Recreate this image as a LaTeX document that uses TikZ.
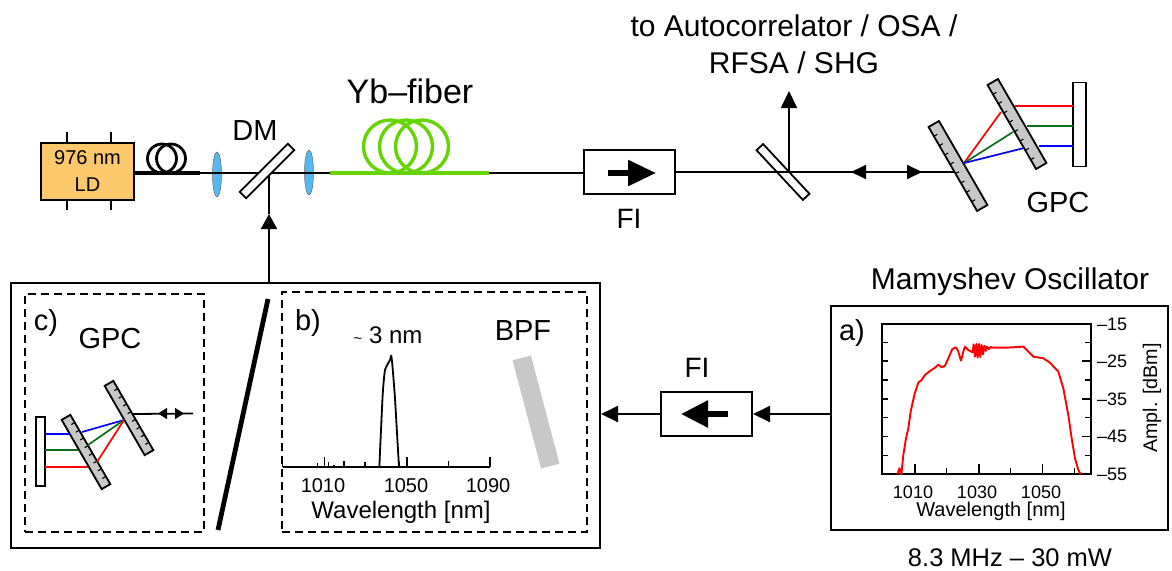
\documentclass[tikz,border=0pt]{standalone}
\usepackage{fontspec}
\setmainfont{Liberation Sans}
\usetikzlibrary{arrows.meta,shapes.geometric}

\newcommand{\fsz}[1]{\fontsize{#1}{#1}\selectfont}

\tikzset{
  beam/.style={line width=1.8pt},
  lens/.style={ellipse,draw=black!60,line width=0.5pt,fill=lensblue,inner sep=0pt,minimum width=9pt,minimum height=45pt},
  plate/.style={rectangle,draw,line width=1.8pt,fill=white,inner sep=0pt,minimum width=68pt,minimum height=9pt},
  isobox/.style={rectangle,draw,line width=2pt,fill=white,inner sep=0pt},
  panel/.style={rectangle,draw,line width=2pt,inner sep=0pt},
  dashbox/.style={rectangle,draw,line width=1.7pt,dash pattern=on 8pt off 5pt,inner sep=0pt},
  mirrorbox/.style={rectangle,draw,line width=1.8pt,fill=white,inner sep=0pt},
  lab/.style={inner sep=0pt,font=\fsz{29}},
  ticklab/.style={inner sep=0pt,font=\fsz{18}},
}
\definecolor{lensblue}{HTML}{55B9F0}
\definecolor{ldorange}{HTML}{FBC96C}
\definecolor{ybgreen}{HTML}{66D400}
\definecolor{gratgray}{HTML}{C8C8C8}
\definecolor{raygreen}{HTML}{0B6E1A}

\begin{document}
\begin{tikzpicture}[x=1pt,y=-1pt]
    \useasboundingbox (0,0) rectangle (1172,570);

    % Laser diode with its pins
    \node[rectangle,draw,line width=2pt,fill=ldorange,inner sep=0pt,minimum width=93pt,minimum height=57pt,
          align=center,font=\fontsize{20}{27}\selectfont] (ld) at (87.5,171.5) {976 nm\\LD};
    \foreach \x in {67,111} {
        \draw[line width=1.5pt] (\x,132) -- (\x,143);
        \draw[line width=1.5pt] (\x,200) -- (\x,210);
    }

    % Fiber coils
    \foreach \x in {162,171} \draw[line width=2.8pt] (\x,158.5) circle (14.5);
    \foreach \x in {390,406,422} \draw[ybgreen,line width=3.4pt] (\x,146.5) circle (26.5);

    % Lenses
    \node[lens] (lensa) at (217,174.5) {};
    \node[lens] (lensb) at (309,172.5) {};

    % Main beam line
    \coordinate (dmc) at (267,171);
    \coordinate (coilend) at (200,173);
    \coordinate (ybstart) at (330,173);
    \coordinate (ybend) at (489,173);
    \coordinate (bsc) at (783,172);
    \coordinate (gpcin) at (955,172);
    \coordinate (tapc) at (789,172);
    \coordinate (taptop) at (789,91);
    \coordinate (pumpend) at (269,175);
    \coordinate (pumphead) at (269,214);
    \coordinate (pumpbase) at (269,229);
    \node[isobox,minimum width=91pt,minimum height=44pt] (fia) at (629.5,172) {};
    \draw[line width=3.4pt] (ld.east |- coilend) -- (coilend);
    \draw[beam] (coilend) -- (ybstart);
    \draw[ybgreen,line width=3.4pt] (ybstart) -- (ybend);
    \draw[beam] (ybend) -- (fia.west |- ybend);
    \draw[beam] (fia.east) -- (gpcin);

    % Dichroic mirror and tap plate
    \node[plate,rotate=45] (dm) at (dmc) {};
    \node[plate,rotate=-47,fill=none] (bs) at (bsc) {};

    % Isolator arrow
    \draw[line width=5.5pt,-{Triangle[length=28pt,width=25pt]}] (608,173) -- (656,173);

    % Output arrow and double arrow
    \draw[beam,-{Triangle[length=17pt,width=16pt]}] (tapc) -- (taptop);
    \coordinate (dbla) at (851,172);
    \coordinate (dblb) at (922,172);
    \draw[beam,{Triangle[length=15pt,width=14pt]}-{Triangle[length=15pt,width=14pt]}] (dbla) -- (dblb);

    % Gratings
    \foreach \gx/\gy/\glen/\gwid/\gside in {958/166/97/12/1,1017/124/97/12/1,86/452/80/10/-1,129/418/80/10/-1} {
        \begin{scope}[shift={(\gx,\gy)},rotate=-60]
            \draw[fill=gratgray,line width=1.8pt] ({-\glen/2},{-\gwid/2}) rectangle ({\glen/2},{\gwid/2});
            \foreach \k in {1,...,8}
                \draw[line width=1.1pt] ({-\glen/2+\k*\glen/9},{\gside*\gwid/2}) -- ({-\glen/2+\k*\glen/9},{\gside*(\gwid/2-4)});
        \end{scope}
    }

    % End mirrors
    \node[mirrorbox,minimum width=13pt,minimum height=84pt] (mirra) at (1079.5,124.5) {};
    \node[mirrorbox,minimum width=9pt,minimum height=69pt] (mirrb) at (40.5,451.5) {};

    % Rays in the compressors
    \foreach \col/\ax/\ay/\bx/\by/\ey in {red/1001/112/1015/106/106,raygreen/1013/132/1027/126/126,blue/1024/148/1039/146/146}
        \draw[\col,line width=1.7pt] (964,163) -- (\ax,\ay) (\bx,\by) -- (1073,\ey);
    \foreach \col/\ax/\ay/\bx/\by/\ey in {blue/82/432/69/434/434,raygreen/88/445/78/450/450,red/97/462/88/467/467}
        \draw[\col,line width=1.7pt] (124,420) -- (\ax,\ay) (\bx,\by) -- (45,\ey);

    % Lower left box
    \node[panel,minimum width=589pt,minimum height=265pt] (ampbox) at (305.5,415.5) {};
    \node[dashbox,minimum width=179pt,minimum height=238pt] (boxc) at (114.5,413) {};
    \node[dashbox,minimum width=305pt,minimum height=240pt] (boxb) at (434.5,412) {};
    \draw[line width=4.8pt] (268,299) -- (218,530);
    \node[rectangle,fill=gratgray,inner sep=0pt,minimum width=112pt,minimum height=19pt,rotate=-75.2] (bpf) at (536,412) {};

    % Pump arrow up to the mirror
    \draw[beam] (ampbox.north -| pumpend) -- (pumpbase);
    \draw[beam,-{Triangle[length=15pt,width=16pt]}] (pumpbase) -- (pumphead);
    \draw[beam] (pumphead) -- (pumpend);

    % Output double arrow of the small compressor
    \coordinate (cgpca) at (133,414);
    \coordinate (cgpcb) at (193,413.5);
    \coordinate (cdbla) at (158,413.5);
    \coordinate (cdblb) at (184,413.5);
    \draw[beam] (cgpca) -- (cgpcb);
    \draw[line width=1pt,{Triangle[length=9pt,width=11pt]}-{Triangle[length=9pt,width=11pt]}] (cdbla) -- (cdblb);

    % Small spectrum in b)
    \begin{scope}[shift={(275,285)},scale=0.3333]
        \draw[line width=1.8pt] (23,547) -- (645,547);
        \foreach \x/\h in {23/30,127/12,148/30,160/15,177/8,207/18,270/16,372/15,396/30,520/18,645/30}
            \draw[line width=1.3pt] (\x,547) -- (\x,547-\h);
        \draw[line width=1.8pt,line join=round] plot[smooth,tension=0.3] coordinates {(313,547) (323,330) (330,255) (345,225) (349,212) (353,250) (360,340) (372,547)};
    \end{scope}

    % Mamyshev spectrum box a)
    \node[panel,minimum width=337pt,minimum height=224pt] (oscbox) at (999.5,418) {};
    \node[rectangle,draw,line width=1.9pt,inner sep=0pt,minimum width=209pt,minimum height=150pt] (plota) at (986.5,399) {};
    \begin{scope}[shift={(820,295)},scale=0.3333]
        \foreach \y in {143,255,368,482} {
            \draw[line width=1.4pt] (187,\y) -- (205,\y);
            \draw[line width=1.4pt] (795,\y) -- (812,\y);
        }
        \foreach \y in {198,312,425} {
            \draw[line width=1.4pt] (187,\y) -- (205,\y);
            \draw[line width=1.4pt] (785,\y) -- (812,\y);
        }
        \foreach \x/\h in {285/30,380/18,477/30,572/18,668/30,763/18}
            \draw[line width=1.4pt] (\x,538) -- (\x,538-\h);
        \draw[red,line width=1.9pt,line join=round] plot coordinates {(232,538) (238,520) (244,538) (250,480) (258,430) (265,400) (272,350) (283,300) (295,263) (305,255) (315,240) (330,228) (345,218) (355,209) (365,217) (375,212) (385,190) (397,162) (408,157) (415,170) (423,197) (430,170) (435,155) (445,165) (458,172) (461,148) (465,185) (469,147) (473,188) (477,147) (481,186) (485,150) (489,178) (493,152) (497,168) (501,155) (506,162) (512,156) (520,158) (560,158) (610,155) (625,170) (640,185) (670,190) (690,203) (715,230) (730,280) (745,360) (755,430) (765,490) (775,525) (782,538)};
    \end{scope}

    % Isolator between the boxes
    \node[isobox,minimum width=91pt,minimum height=44pt] (fib) at (706.5,414) {};
    \draw[beam,-{Triangle[length=17pt,width=16pt]}] (oscbox.west |- fib) -- (fib.east);
    \draw[beam,-{Triangle[length=17pt,width=16pt]}] (fib.west) -- (ampbox.east |- fib);
    \draw[line width=5.5pt,-{Triangle[length=27pt,width=26pt]}] (728,414) -- (681,414);

    % Labels
    \node[inner sep=0pt,align=center,font=\fontsize{30}{37}\selectfont] (tolab) at (794,44) {to Autocorrelator / OSA /\\RFSA / SHG};
    \node[inner sep=0pt,font=\fsz{34}] (yblab) at (410,91) {Yb–fiber};
    \node[lab] (dmlab) at (255,131) {DM};
    \node[lab,font=\fsz{28}] (fialab) at (629,219) {FI};
    \node[lab] (gpclab) at (1058,203) {GPC};
    \node[lab,font=\fsz{28}] (fiblab) at (697,368) {FI};
    \node[inner sep=0pt,font=\fsz{30}] (osclab) at (1010,282) {Mamyshev Oscillator};
    \node[inner sep=0pt,font=\fsz{25.5}] (replab) at (1010,558) {8.3 MHz – 30 mW};
    \node[lab] (clab) at (46,323) {c)};
    \node[lab] (gpcclab) at (110,339) {GPC};
    \node[lab] (blab) at (308,323) {b)};
    \node[inner sep=0pt,font=\fsz{24}] (widlab) at (388,335) {{\fsz{15}\textasciitilde} 3 nm};
    \node[lab] (bpflab) at (523,331) {BPF};
    \node[lab] (alab) at (852,333) {a)};

    % Tick labels of b)
    \foreach \x/\t in {323/1010,406/1050,488/1090}
        \node[inner sep=0pt,font=\fsz{20}] (bt\t) at (\x,486) {\t};
    \node[inner sep=0pt,font=\fsz{24}] (bxlab) at (401,512) {Wavelength [nm]};

    % Tick labels of a)
    \foreach \x/\t in {913/1010,977/1030,1041/1050}
        \node[ticklab] (at\t) at (\x,492) {\t};
    \node[inner sep=0pt,font=\fsz{20}] (axlab) at (991,511) {Wavelength [nm]};
    \foreach \y/\t in {324/15,361.5/25,399/35,436.5/45,474/55}
        \node[ticklab,anchor=west] (ay\t) at (1097,\y) {–\t};
    \node[inner sep=0pt,font=\fsz{19.7},rotate=90] (aylab) at (1152,398) {Ampl. [dBm]};
\end{tikzpicture}
\end{document}
